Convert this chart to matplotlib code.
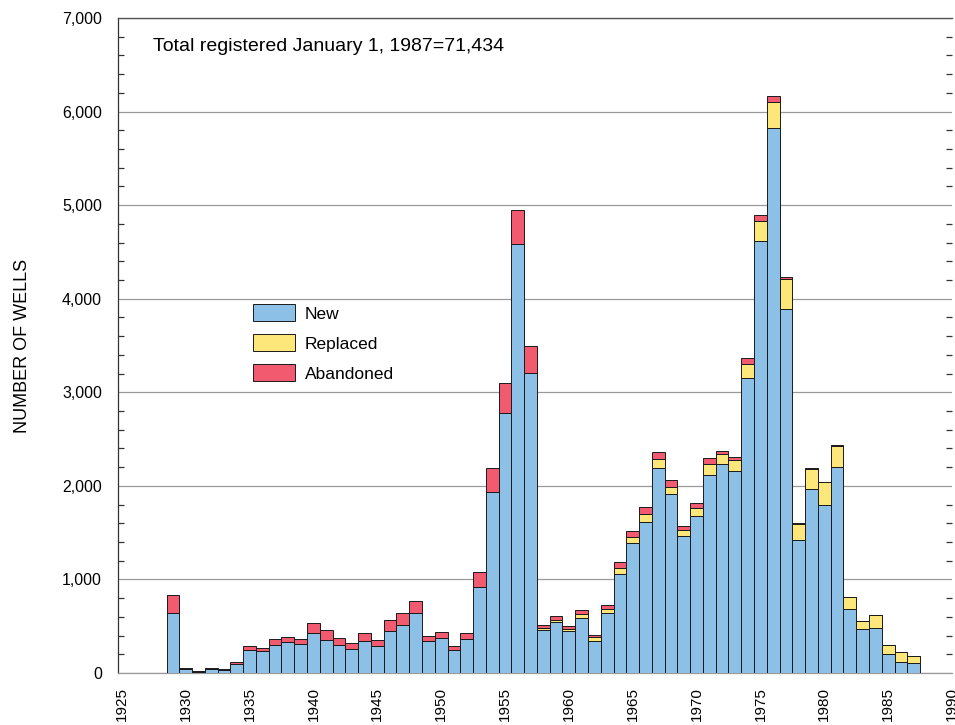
import matplotlib
matplotlib.use("Agg")
import matplotlib.pyplot as plt
from matplotlib.patches import Patch
from matplotlib.ticker import MultipleLocator, FuncFormatter
import numpy as np

plt.rcParams['font.family'] = ['Liberation Sans', 'DejaVu Sans']

years = list(range(1929, 1988))

new_wells = [636, 39, 14, 39, 36, 96, 250, 236, 304, 332,
             311, 432, 357, 296, 261, 343, 293, 446, 518, 643,
             339, 375, 243, 361, 921, 1936, 2782, 4586, 3211, 457,
             546, 450, 593, 343, 643, 1057, 1386, 1614, 2196, 1914,
             1464, 1679, 2111, 2232, 2161, 3150, 4614, 5821, 3889, 1420,
             1971, 1793, 2204, 686, 471, 482, 204, 118, 104]

replaced_wells = [0, 0, 0, 0, 0, 0, 0, 0, 0, 0,
                  0, 0, 0, 0, 0, 0, 0, 0, 0, 0,
                  0, 0, 0, 0, 0, 0, 0, 0, 0, 20,
                  25, 15, 35, 45, 40, 70, 70, 80, 90, 75,
                  60, 80, 125, 110, 110, 155, 220, 285, 320, 170,
                  205, 253, 225, 125, 83, 136, 92, 111, 78]

abandoned_wells = [196, 18, 7, 15, 10, 18, 36, 35, 57, 54,
                   50, 107, 104, 83, 60, 89, 64, 118, 118, 128,
                   57, 64, 43, 68, 161, 257, 314, 357, 289, 40,
                   43, 35, 50, 16, 42, 55, 65, 81, 71, 75,
                   51, 62, 60, 26, 33, 60, 57, 63, 28, 17,
                   10, 0, 10, 0, 0, 0, 0, 0, 0]

series_labels = ["New", "Replaced", "Abandoned"]
title_text = "Total registered January 1, 1987=71,434"
y_label = "NUMBER OF WELLS"

c_new = "#8cc0e6"
c_rep = "#fde77b"
c_ab = "#f25a70"
edge = "#1a1a1a"

fig = plt.figure(figsize=(9.55, 7.25), dpi=100)
ax = fig.add_axes([118 / 955, 1 - 673 / 725, (952 - 118) / 955, (673 - 18) / 725])

x = np.array(years)
new = np.array(new_wells)
rep = np.array(replaced_wells)
ab = np.array(abandoned_wells)

ax.set_axisbelow(True)
ax.yaxis.grid(True, which='major', color='#9a9a9a', linewidth=0.9)

bar_kw = dict(width=1.0, align='center', edgecolor=edge, linewidth=0.7, zorder=3)
ax.bar(x, new, color=c_new, **bar_kw)
ax.bar(x, rep, bottom=new, color=c_rep, **bar_kw)
ax.bar(x, ab, bottom=new + rep, color=c_ab, **bar_kw)

ax.set_xlim(1924.7, 1990)
ax.set_ylim(0, 7000)

ax.xaxis.set_major_locator(MultipleLocator(5))
ax.yaxis.set_major_locator(MultipleLocator(1000))
ax.yaxis.set_minor_locator(MultipleLocator(200))
ax.yaxis.set_major_formatter(FuncFormatter(lambda v, p: f"{int(v):,}"))

ax.tick_params(axis='x', length=0, pad=10, labelsize=11, labelrotation=90)
ax.tick_params(axis='y', which='major', length=0, pad=11.5, labelsize=11.5)
ax.tick_params(axis='y', which='minor', direction='in', length=4, width=0.9,
               color='#333333', left=True, right=True)

ax.spines['right'].set_visible(False)
ax.spines['left'].set_color('#333333')
ax.spines['left'].set_linewidth(0.9)
ax.spines['top'].set_color('#555555')
ax.spines['top'].set_linewidth(1.0)
ax.spines['bottom'].set_color('#9a9a9a')
ax.spines['bottom'].set_linewidth(0.9)

ax.set_ylabel(y_label, fontsize=13, labelpad=22)

ax.text(0.042, 0.957, title_text, transform=ax.transAxes, fontsize=14,
        ha='left', va='center')

handles = [Patch(facecolor=c, edgecolor=edge, linewidth=0.7)
           for c in (c_new, c_rep, c_ab)]
ax.legend(handles, series_labels, loc='upper left',
          bbox_to_anchor=(0.162, 0.563), frameon=False, fontsize=12.5,
          handlelength=2.4, handleheight=1.15, labelspacing=0.72,
          handletextpad=0.57, borderaxespad=0, borderpad=0)

fig.savefig("out.png", dpi=100)
